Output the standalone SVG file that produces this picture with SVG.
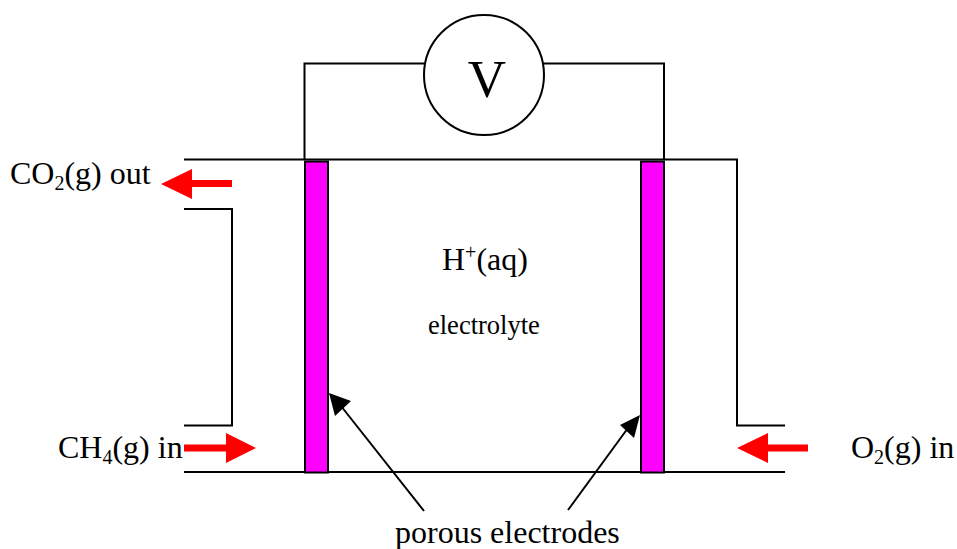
<svg xmlns="http://www.w3.org/2000/svg" width="957" height="549" viewBox="0 0 957 549">
<style>
.l{fill:none;stroke:#000;stroke-width:2}
.e{fill:#f0f;stroke:#000;stroke-width:2}
.r{fill:#f00}
.k{fill:#000}
text{font-family:"Liberation Serif","Times New Roman",serif;fill:#000}
.t{font-size:32px}
.u{font-size:20px}
.s{font-size:26.500px}
</style>
<rect width="957" height="549" fill="#fff"/>
<g id="connectors">
<path class="l" d="M184 159.500H737V425.500H785"/>
<path class="l" d="M184 472H785"/>
<path class="l" d="M184 209H232V425.500H184"/>
<path class="l" d="M304.500 159V63.500H424M544 63.500H664V159"/>
<path class="l" d="M424 511L341 406"/>
<path class="k" d="M329 393L351 401L335 416Z"/>
<path class="l" d="M568 510L628 428"/>
<path class="k" d="M640 415L634 438L620 425Z"/>
</g>
<g id="electrode-left"><rect class="e" x="305" y="161.500" width="23" height="311"/></g>
<g id="electrode-right"><rect class="e" x="641" y="161.500" width="23" height="311"/></g>
<g id="voltmeter"><circle cx="484" cy="75" r="60" fill="#fff" stroke="#000" stroke-width="2"/><text x="487" y="97" font-size="53" text-anchor="middle">V</text></g>
<g id="arrow-co2"><path class="r" d="M161 184L192 169V180H232V187H192V199Z"/></g>
<g id="arrow-ch4"><path class="r" d="M184 444.500H226V433L256 448L226 463V451.500H184Z"/></g>
<g id="arrow-o2"><path class="r" d="M737 448L768 433V444.500H808V451.500H768V463Z"/></g>
<g id="label-co2"><text class="t" x="10" y="184">CO<tspan class="u" dy="6">2</tspan><tspan dy="-6">(g) out</tspan></text></g>
<g id="label-ch4"><text class="t" x="58" y="458">CH<tspan class="u" dy="6">4</tspan><tspan dy="-6">(g) in</tspan></text></g>
<g id="label-o2"><text class="t" x="851" y="458">O<tspan class="u" dy="6">2</tspan><tspan dy="-6">(g) in</tspan></text></g>
<g id="label-h"><text class="t" x="442" y="270">H<tspan class="u" dy="-11">+</tspan><tspan dy="11">(aq)</tspan></text></g>
<g id="label-electrolyte"><text class="s" x="428" y="334">electrolyte</text></g>
<g id="label-porous"><text class="t" x="395" y="543">porous electrodes</text></g>
</svg>
